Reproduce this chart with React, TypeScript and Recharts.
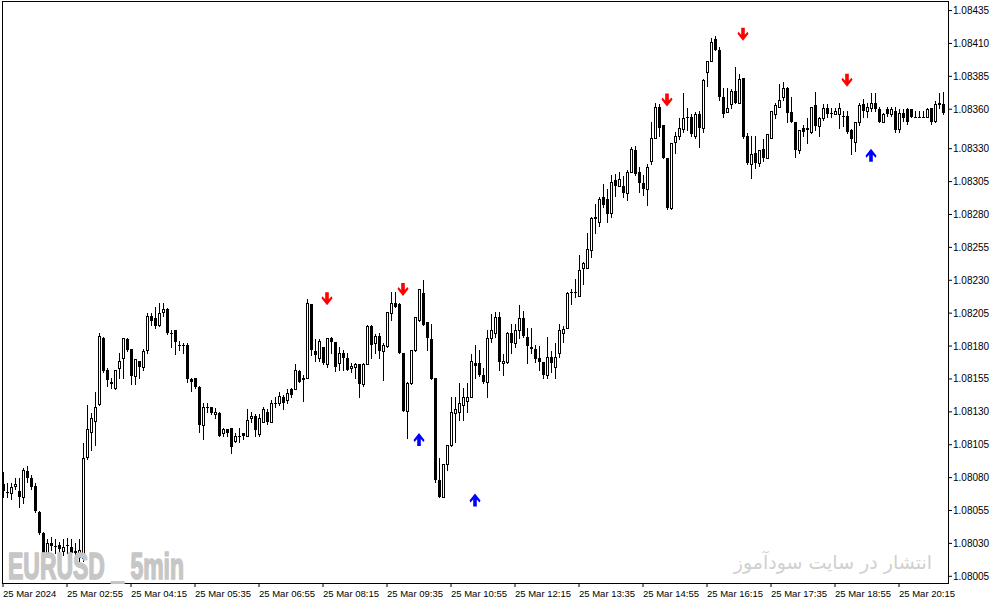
import React from "react";
import { ComposedChart, Bar, Scatter, XAxis, YAxis } from "recharts";

// EURUSD M5 quotes, 25 Mar 2024, first bar at 01:35
const opens = [
  1.08075, 1.08069, 1.08068, 1.08074, 1.0807, 1.08065, 1.08085, 1.0808, 1.08074, 1.08054, 1.08038, 1.08023, 1.0803, 1.08028, 1.08029, 1.08024,
  1.08029, 1.08027, 1.08024, 1.0802, 1.08019, 1.08096, 1.08115, 1.08123, 1.08136, 1.08186, 1.08162, 1.08153, 1.08148, 1.08163, 1.08171, 1.08185,
  1.08178, 1.08157, 1.08169, 1.08164, 1.08177, 1.08203, 1.08201, 1.08196, 1.08206, 1.08208, 1.0819, 1.08192, 1.08181, 1.08181, 1.08181, 1.08155,
  1.08156, 1.08149, 1.0812, 1.08134, 1.08134, 1.08128, 1.08129, 1.08114, 1.08117, 1.08118, 1.08108, 1.08112, 1.08114, 1.08112, 1.08125, 1.08127,
  1.08113, 1.08122, 1.0813, 1.08122, 1.08137, 1.08137, 1.08141, 1.08139, 1.08147, 1.08147, 1.08161, 1.08155, 1.08156, 1.08212, 1.08176, 1.08171,
  1.08179, 1.08166, 1.08186, 1.08183, 1.08167, 1.08175, 1.08171, 1.08163, 1.08164, 1.08166, 1.08151, 1.08166, 1.08195, 1.08182, 1.08188, 1.08176,
  1.0818, 1.08205, 1.08213, 1.08212, 1.08175, 1.08131, 1.08152, 1.08177, 1.082, 1.0822, 1.08198, 1.08185, 1.08156, 1.08078, 1.08065, 1.0809,
  1.08105, 1.08129, 1.0813, 1.08135, 1.08138, 1.08141, 1.08167, 1.08167, 1.08158, 1.08153, 1.08186, 1.0819, 1.08202, 1.08167, 1.08168, 1.0819,
  1.08182, 1.08192, 1.08201, 1.08187, 1.08179, 1.08178, 1.08171, 1.08168, 1.08158, 1.08172, 1.08164, 1.08175, 1.0819, 1.08194, 1.08221, 1.08221,
  1.08218, 1.08239, 1.08239, 1.08253, 1.08277, 1.08274, 1.08293, 1.08292, 1.08281, 1.08306, 1.08302, 1.08302, 1.08296, 1.08312, 1.08329, 1.08312,
  1.08304, 1.08299, 1.08321, 1.08338, 1.08362, 1.08348, 1.08323, 1.08285, 1.08335, 1.0834, 1.08345, 1.08354, 1.08354, 1.0834, 1.08356, 1.08346,
  1.08388, 1.08397, 1.08413, 1.08405, 1.08369, 1.08358, 1.08364, 1.08374, 1.08365, 1.08384, 1.0834, 1.08318, 1.08327, 1.08319, 1.0833, 1.08323,
  1.08338, 1.08356, 1.08362, 1.08369, 1.08376, 1.08358, 1.0835, 1.08329, 1.08346, 1.08346, 1.08343, 1.08363, 1.08347, 1.08353, 1.08361, 1.08357,
  1.08356, 1.08356, 1.08355, 1.08355, 1.08344, 1.08335, 1.0835, 1.08364, 1.08359, 1.08361, 1.08365, 1.0836, 1.0835, 1.0836, 1.08356, 1.08359,
  1.08345, 1.08357, 1.0836, 1.0836, 1.08354, 1.08354, 1.08354, 1.08354, 1.08361, 1.08351, 1.08365, 1.08364,
];

const highs = [
  1.08084, 1.08076, 1.08076, 1.0808, 1.0808, 1.08087, 1.08089, 1.08082, 1.08076, 1.08055, 1.08039, 1.08033, 1.08035, 1.08033, 1.08031, 1.08033,
  1.08034, 1.08033, 1.0803, 1.08033, 1.08106, 1.08135, 1.08129, 1.08145, 1.0819, 1.08187, 1.08163, 1.08156, 1.08162, 1.08175, 1.08186, 1.08186,
  1.08178, 1.0817, 1.08169, 1.08178, 1.08205, 1.08205, 1.0821, 1.08213, 1.08213, 1.08209, 1.08192, 1.08192, 1.08184, 1.08182, 1.08182, 1.08156,
  1.08156, 1.0815, 1.08137, 1.08137, 1.08134, 1.08133, 1.0813, 1.08118, 1.08117, 1.08118, 1.08114, 1.08118, 1.08114, 1.08132, 1.0813, 1.08128,
  1.08128, 1.08134, 1.08132, 1.08139, 1.08141, 1.08145, 1.08143, 1.08147, 1.08148, 1.08166, 1.08162, 1.08158, 1.08216, 1.08212, 1.08185, 1.08185,
  1.08179, 1.08186, 1.08187, 1.08183, 1.08179, 1.08177, 1.08175, 1.08167, 1.08167, 1.08166, 1.08167, 1.08196, 1.08196, 1.08189, 1.0819, 1.08182,
  1.08206, 1.08221, 1.08221, 1.08213, 1.08175, 1.08153, 1.08177, 1.08202, 1.08223, 1.0823, 1.08198, 1.08197, 1.08156, 1.08095, 1.0809, 1.08105,
  1.08141, 1.08141, 1.08152, 1.08148, 1.08152, 1.08174, 1.08181, 1.08177, 1.08163, 1.08192, 1.08204, 1.08206, 1.08206, 1.08174, 1.08191, 1.08197,
  1.08197, 1.08211, 1.08207, 1.08194, 1.08194, 1.08181, 1.0818, 1.08168, 1.08187, 1.08176, 1.08182, 1.08197, 1.08195, 1.08221, 1.08223, 1.08231,
  1.08249, 1.08244, 1.08266, 1.08278, 1.08288, 1.08293, 1.08303, 1.08299, 1.0831, 1.08311, 1.08312, 1.08309, 1.08314, 1.08331, 1.08332, 1.08316,
  1.0831, 1.08318, 1.0835, 1.08365, 1.08364, 1.08348, 1.08323, 1.08334, 1.08343, 1.08353, 1.08372, 1.08361, 1.08356, 1.08358, 1.08359, 1.08383,
  1.08397, 1.08414, 1.08416, 1.08407, 1.08376, 1.08376, 1.08375, 1.08392, 1.08387, 1.08384, 1.08342, 1.0834, 1.0834, 1.08329, 1.08337, 1.08341,
  1.08359, 1.08365, 1.08379, 1.08381, 1.08377, 1.08369, 1.0835, 1.08344, 1.08348, 1.08353, 1.08362, 1.08373, 1.08354, 1.08364, 1.08364, 1.08361,
  1.08361, 1.08365, 1.08359, 1.08359, 1.08345, 1.0835, 1.08365, 1.08368, 1.08365, 1.08372, 1.08372, 1.08362, 1.08357, 1.08362, 1.08362, 1.08362,
  1.0836, 1.0836, 1.08361, 1.0836, 1.08359, 1.08359, 1.08359, 1.08361, 1.08361, 1.08366, 1.08372, 1.08373,
];

const lows = [
  1.08065, 1.08065, 1.08064, 1.08071, 1.08058, 1.08061, 1.08077, 1.08071, 1.08054, 1.08037, 1.08021, 1.08021, 1.08025, 1.08023, 1.0802, 1.08021,
  1.08023, 1.0802, 1.0802, 1.08017, 1.08017, 1.08094, 1.08101, 1.08105, 1.08135, 1.0816, 1.0815, 1.08148, 1.08147, 1.08156, 1.08156, 1.08176,
  1.08151, 1.08151, 1.08156, 1.08162, 1.08175, 1.08196, 1.08194, 1.08195, 1.08203, 1.08189, 1.08179, 1.08174, 1.08177, 1.08175, 1.08153, 1.08146,
  1.08148, 1.08115, 1.08109, 1.0813, 1.08128, 1.08125, 1.08112, 1.08112, 1.08112, 1.08099, 1.08107, 1.08107, 1.08109, 1.08112, 1.08122, 1.08112,
  1.08112, 1.08122, 1.08121, 1.08122, 1.08134, 1.08135, 1.08132, 1.08137, 1.08141, 1.08147, 1.08153, 1.08138, 1.08156, 1.08173, 1.08169, 1.08169,
  1.08166, 1.08164, 1.08175, 1.08161, 1.08162, 1.08162, 1.08162, 1.0816, 1.08156, 1.08141, 1.0815, 1.08166, 1.08171, 1.08175, 1.08171, 1.08154,
  1.08179, 1.082, 1.0821, 1.08175, 1.08131, 1.0811, 1.08151, 1.08176, 1.08199, 1.08196, 1.08177, 1.08155, 1.08077, 1.08065, 1.08065, 1.08086,
  1.08104, 1.08107, 1.08124, 1.08124, 1.0813, 1.08141, 1.08156, 1.08157, 1.08152, 1.08141, 1.08183, 1.08187, 1.08162, 1.08158, 1.08167, 1.08175,
  1.08179, 1.08186, 1.08187, 1.08167, 1.08175, 1.08168, 1.08162, 1.08156, 1.08156, 1.0816, 1.08156, 1.08172, 1.08183, 1.08194, 1.08212, 1.08217,
  1.08218, 1.08227, 1.08239, 1.08248, 1.08266, 1.08271, 1.08286, 1.08274, 1.08278, 1.08294, 1.08302, 1.08293, 1.08291, 1.08312, 1.0831, 1.08297,
  1.08295, 1.08287, 1.08318, 1.08338, 1.0834, 1.08323, 1.08284, 1.08284, 1.08327, 1.08337, 1.08343, 1.08344, 1.0834, 1.08338, 1.08331, 1.08343,
  1.08378, 1.08397, 1.08405, 1.08367, 1.08354, 1.08358, 1.08361, 1.08365, 1.08365, 1.08338, 1.08318, 1.08308, 1.08315, 1.08317, 1.08321, 1.08323,
  1.08338, 1.08353, 1.08362, 1.08367, 1.0835, 1.0835, 1.08324, 1.08327, 1.0834, 1.08334, 1.08342, 1.08344, 1.0834, 1.08352, 1.08354, 1.08354,
  1.08356, 1.08346, 1.08347, 1.08342, 1.08326, 1.08328, 1.08348, 1.08354, 1.08354, 1.08359, 1.08359, 1.0835, 1.0835, 1.08355, 1.08355, 1.08343,
  1.08343, 1.08351, 1.08349, 1.08354, 1.08354, 1.08354, 1.08354, 1.08354, 1.08349, 1.0835, 1.08361, 1.08356,
];

const closes = [
  1.0807, 1.08068, 1.08073, 1.08075, 1.08065, 1.08086, 1.0808, 1.08073, 1.08055, 1.08038, 1.08023, 1.0803, 1.08028, 1.08028, 1.08026, 1.08027,
  1.08029, 1.08023, 1.08023, 1.08025, 1.08095, 1.08117, 1.08125, 1.08134, 1.08188, 1.08161, 1.08154, 1.08151, 1.08162, 1.08169, 1.08186, 1.08177,
  1.08157, 1.0817, 1.08164, 1.08176, 1.08203, 1.08199, 1.08195, 1.08205, 1.08208, 1.0819, 1.08189, 1.08183, 1.08181, 1.08181, 1.08155, 1.08153,
  1.08149, 1.0812, 1.08134, 1.08134, 1.08129, 1.0813, 1.08112, 1.08117, 1.08114, 1.08103, 1.08112, 1.08112, 1.08112, 1.08124, 1.08127, 1.08116,
  1.08125, 1.08132, 1.08122, 1.08137, 1.08136, 1.08142, 1.08137, 1.08144, 1.08143, 1.08162, 1.08153, 1.08156, 1.08213, 1.08177, 1.08173, 1.08184,
  1.08167, 1.08186, 1.08183, 1.08164, 1.08175, 1.08171, 1.08162, 1.08165, 1.08166, 1.08151, 1.08166, 1.08195, 1.08181, 1.08188, 1.08176, 1.08181,
  1.08206, 1.08213, 1.0821, 1.08175, 1.08131, 1.08152, 1.08177, 1.08202, 1.08223, 1.08196, 1.08186, 1.08155, 1.08078, 1.08065, 1.0809, 1.08105,
  1.0813, 1.08132, 1.08137, 1.08141, 1.08141, 1.08169, 1.08165, 1.08158, 1.08153, 1.08186, 1.08192, 1.08202, 1.08168, 1.08169, 1.0819, 1.08182,
  1.08192, 1.08201, 1.08188, 1.0818, 1.08178, 1.0817, 1.08168, 1.08158, 1.08172, 1.08167, 1.08172, 1.08192, 1.08193, 1.0822, 1.08221, 1.08221,
  1.08238, 1.08243, 1.08254, 1.08277, 1.08278, 1.08292, 1.08287, 1.0828, 1.08305, 1.08302, 1.08307, 1.08296, 1.08312, 1.0833, 1.08311, 1.08304,
  1.08299, 1.08316, 1.08338, 1.08362, 1.08346, 1.08323, 1.08285, 1.08334, 1.0834, 1.08346, 1.08353, 1.08353, 1.08341, 1.08356, 1.08346, 1.08382,
  1.08397, 1.08411, 1.08405, 1.08369, 1.08356, 1.08361, 1.08374, 1.08365, 1.08383, 1.08339, 1.08319, 1.08326, 1.08319, 1.08329, 1.08323, 1.08341,
  1.08359, 1.08363, 1.08367, 1.08376, 1.08357, 1.0835, 1.08329, 1.08344, 1.08343, 1.08344, 1.08362, 1.08347, 1.08353, 1.08361, 1.08356, 1.08356,
  1.08359, 1.08361, 1.08354, 1.08343, 1.08337, 1.0835, 1.08363, 1.08359, 1.08362, 1.08365, 1.0836, 1.0835, 1.08356, 1.08356, 1.0836, 1.08344,
  1.08357, 1.08353, 1.0835, 1.08354, 1.08354, 1.08354, 1.08354, 1.0836, 1.0835, 1.08364, 1.08363, 1.08357,
];

// indicator arrows (bar time -> price where the arrow is drawn)
const sellSignals = [
  { time: "08:20", price: 1.08216 },
  { time: "09:55", price: 1.08223 },
  { time: "15:25", price: 1.08367 },
  { time: "17:00", price: 1.08417 },
  { time: "19:10", price: 1.08382 },
];
const buySignals = [
  { time: "10:15", price: 1.08109 },
  { time: "11:25", price: 1.08063 },
  { time: "19:40", price: 1.08325 },
];

const priceTicks = [
  1.08005, 1.0803, 1.08055, 1.0808, 1.08105, 1.0813, 1.08155, 1.0818, 1.08205,
  1.0823, 1.08255, 1.0828, 1.08305, 1.0833, 1.0836, 1.08385, 1.08410, 1.08435,
];

const dateLabel = "25 Mar 2024";
const dayPrefix = "25 Mar";
const firstBarMinute = 95; // 01:35
const barMinutes = 5;

const pad = (n: number) => String(n).padStart(2, "0");
const times = opens.map((_, i) => {
  const m = firstBarMinute + barMinutes * i;
  return `${pad(Math.floor(m / 60))}:${pad(m % 60)}`;
});

const rows = times.map((time, i) => ({
  time,
  open: opens[i],
  high: highs[i],
  low: lows[i],
  close: closes[i],
  sell: sellSignals.find((s) => s.time === time)?.price ?? null,
  buy: buySignals.find((s) => s.time === time)?.price ?? null,
}));

const axisFont = "'Liberation Sans', Arial, sans-serif";

const Candle = (props: any) => {
  const { x, y, width, height, payload } = props;
  if (!payload) return <g />;
  const { open, high, low, close } = payload;
  const top = Math.min(y, y + height);
  const span = Math.abs(height);
  const toY = (v: number) => top + ((high - v) / (high - low || 1)) * span;
  const cx = Math.round(x + width / 2);
  const bodyTop = Math.round(toY(Math.max(open, close)));
  const bodyBottom = Math.round(toY(Math.min(open, close)));
  const wickTop = Math.round(toY(high));
  const wickBottom = Math.round(toY(low));
  const h = Math.max(bodyBottom - bodyTop, 1);
  return (
    <g shapeRendering="crispEdges">
      <line x1={cx + 0.5} x2={cx + 0.5} y1={wickTop} y2={wickBottom + 1} stroke="#000" />
      {close > open ? (
        <rect x={cx - 0.5} y={bodyTop + 0.5} width={2} height={h} fill="#fff" stroke="#000" />
      ) : (
        <rect x={cx - 1} y={bodyTop} width={3} height={close < open ? h : 1} fill="#000" />
      )}
    </g>
  );
};

const SignalArrow = ({ cx, cy, up, color }: any) => {
  if (typeof cx !== "number" || typeof cy !== "number" || isNaN(cy)) return <g />;
  const s = up ? -1 : 1;
  const pts = [
    [-1.8, -6.5], [1.8, -6.5], [1.8, 0.5], [4.5, -2.5], [5.5, -0.5],
    [0, 6.5], [-5.5, -0.5], [-4.5, -2.5], [-1.8, 0.5],
  ]
    .map(([px, py]) => `${cx + px},${cy + s * py}`)
    .join(" ");
  return <polygon points={pts} fill={color} />;
};

const TimeTick = ({ x, y, payload }: any) => {
  const label = payload.value === times[0] ? dateLabel : `${dayPrefix} ${payload.value}`;
  return (
    <text x={x} y={y + 8} fontSize={9.5} fontFamily={axisFont} fill="#000" textAnchor="start">
      {label}
    </text>
  );
};

export default function App() {
  return (
    <div style={{ position: "absolute", left: 0, top: 0, width: 994, height: 605, background: "#fff" }}>
      <div
        style={{
          position: "absolute",
          left: 2,
          top: 1,
          width: 947,
          height: 583,
          border: "1px solid #000",
          boxSizing: "border-box",
        }}
      />
      <ComposedChart
        width={994}
        height={605}
        data={rows}
        margin={{ top: 2, right: 0, bottom: 0, left: 1 }}
        style={{ position: "absolute", left: 0, top: 0 }}
      >
        <XAxis
          dataKey="time"
          interval={15}
          height={22}
          axisLine={false}
          tickSize={4}
          tickLine={{ stroke: "#000" }}
          tick={<TimeTick />}
          padding={{ left: 0, right: 3 }}
        />
        <YAxis
          orientation="right"
          width={46}
          domain={[1.079999, 1.084415]}
          allowDataOverflow
          ticks={priceTicks}
          interval={0}
          axisLine={false}
          tickSize={4}
          tickMargin={1}
          tickLine={{ stroke: "#000" }}
          tickFormatter={(v: number) => v.toFixed(5)}
          tick={{ fontSize: 10, fontFamily: axisFont, fill: "#000" }}
        />
        <Bar
          dataKey={(d: any) => [d.low, d.high]}
          shape={(p: any) => <Candle {...p} />}
          isAnimationActive={false}
        />
        <Scatter
          dataKey="sell"
          shape={(p: any) => <SignalArrow {...p} color="#ff0000" />}
          isAnimationActive={false}
        />
        <Scatter
          dataKey="buy"
          shape={(p: any) => <SignalArrow {...p} up color="#0000ff" />}
          isAnimationActive={false}
        />
      </ComposedChart>
      <svg
        width={994}
        height={605}
        style={{ position: "absolute", left: 0, top: 0, pointerEvents: "none" }}
      >
        {/* heavy condensed watermark */}
        <text
          x={8}
          y={579}
          fontSize={36}
          fontWeight="bold"
          fontFamily={axisFont}
          fill="#c6c6c6"
          stroke="#c6c6c6"
          strokeWidth={1.6}
          strokeLinejoin="round"
          textLength={176}
          lengthAdjust="spacingAndGlyphs"
        >
          EURUSD _ 5min
        </text>
      </svg>
      <div
        style={{
          position: "absolute",
          right: 62,
          top: 551,
          fontSize: 19,
          fontFamily: "'DejaVu Sans', sans-serif",
          color: "#d0d0d0",
          direction: "rtl",
          whiteSpace: "nowrap",
        }}
      >
        انتشار در سایت سودآموز
      </div>
    </div>
  );
}
